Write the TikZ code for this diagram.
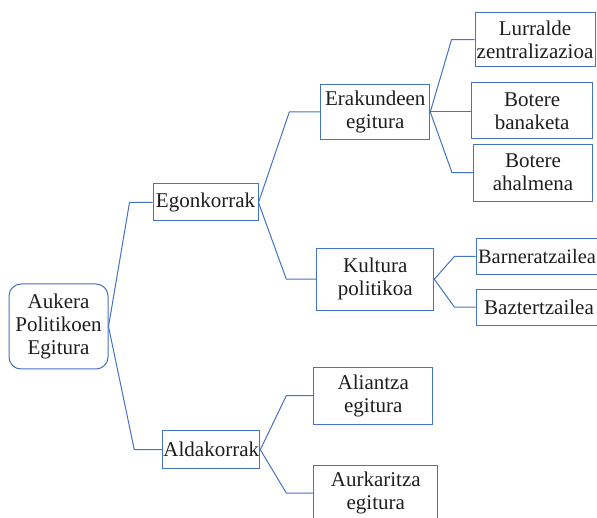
\documentclass[tikz,border=0pt]{standalone}
\usepackage{fontspec}
\setmainfont{Liberation Serif}
\definecolor{lineblue}{RGB}{68,114,196}
\definecolor{txt}{RGB}{30,30,30}
\begin{document}
\begin{tikzpicture}[x=1pt,y=-1pt,
  box/.style={draw=lineblue, line width=1pt, fill=white, inner sep=0pt, align=center,
    text=txt, font=\fontsize{21}{23}\selectfont},
  conn/.style={draw=lineblue, line width=1pt, line join=round}]
\useasboundingbox (0,0) rectangle (597,518);
\clip (0,0) rectangle (597,518);
\fill[white] (0,0) rectangle (597,518);
% nodes
\node[box, rounded corners=12pt, minimum width=99pt, minimum height=85pt] (root) at (58.5,326.5) {Aukera\\Politikoen\\Egitura};
\node[box, minimum width=105pt, minimum height=37pt] (ego) at (205.5,202.5) {Egonkorrak};
\node[box, minimum width=97pt, minimum height=38pt] (ald) at (211.3,449.7) {Aldakorrak};
\node[box, minimum width=109pt, minimum height=55pt] (erak) at (375.3,112) {Erakundeen\\egitura};
\node[box, minimum width=117pt, minimum height=62pt] (kult) at (375.3,279.2) {Kultura\\politikoa};
\node[box, minimum width=120pt, minimum height=54pt] (lur) at (535,39.7) {Lurralde\\zentralizazioa};
\node[box, minimum width=121pt, minimum height=56pt] (bot1) at (532.2,111) {Botere\\banaketa};
\node[box, minimum width=119pt, minimum height=57pt] (bot2) at (533,172.7) {Botere\\ahalmena};
\node[box, minimum width=122pt, minimum height=36pt, font=\fontsize{20.4}{23}\selectfont] (barn) at (537,256.3) {Barneratzailea};
\node[box, minimum width=126pt, minimum height=36pt] (bazt) at (539,307.2) {Baztertzailea};
\node[box, minimum width=119pt, minimum height=57pt] (ali) at (373.3,395.7) {Aliantza\\egitura};
\node[box, minimum width=124pt, minimum height=56pt] (aurk) at (375.8,493) {Aurkaritza\\egitura};
% connectors
\draw[conn] (root.east) -- ([xshift=-23pt]ego.west) -- (ego.west);
\draw[conn] (root.east) -- ([xshift=-28pt]ald.west) -- (ald.west);
\draw[conn] (ego.east) -- ([xshift=-31pt]erak.west) -- (erak.west);
\draw[conn] (ego.east) -- ([xshift=-30pt]kult.west) -- (kult.west);
\draw[conn] (erak.east) -- ([xshift=-23pt]lur.west) -- (lur.west);
\draw[conn] (erak.east) -- (erak.east -| bot1.west);
\draw[conn] (erak.east) -- ([xshift=-21pt]bot2.west) -- (bot2.west);
\draw[conn] (kult.east) -- ([xshift=-21pt]barn.west) -- (barn.west);
\draw[conn] (kult.east) -- ([xshift=-21pt]bazt.west) -- (bazt.west);
\draw[conn] (ald.east) -- ([xshift=-27pt]ali.west) -- (ali.west);
\draw[conn] (ald.east) -- ([xshift=-27pt]aurk.west) -- (aurk.west);
\end{tikzpicture}
\end{document}
